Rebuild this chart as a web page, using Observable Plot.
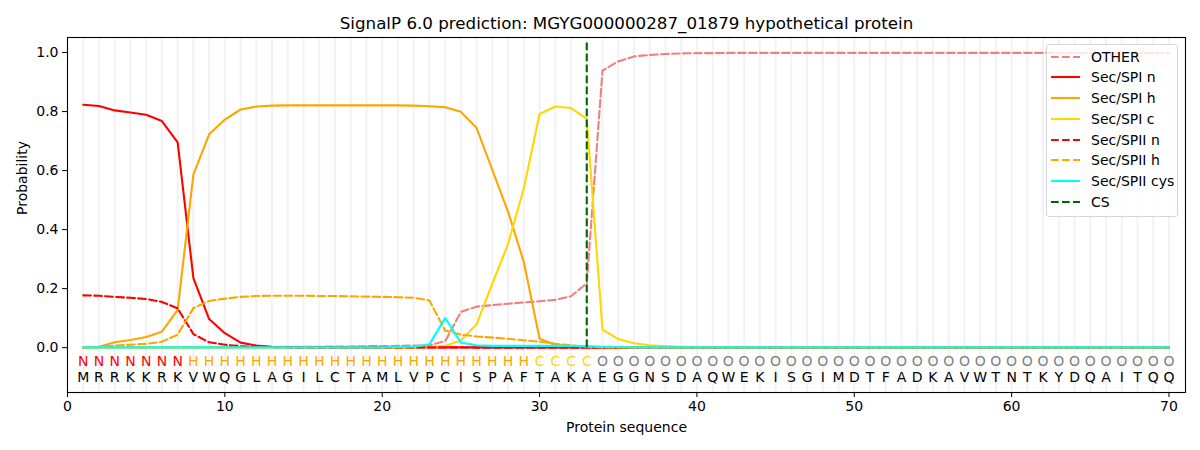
<!DOCTYPE html>
<html><head><meta charset="utf-8">
<script src="https://cdn.jsdelivr.net/npm/d3@7"></script>
<script src="https://cdn.jsdelivr.net/npm/@observablehq/plot@0.6"></script>
<style>
body{margin:0;background:#fff;font-family:"DejaVu Sans",sans-serif;}
#wrap{position:relative;width:1200px;height:450px;overflow:hidden;}
#legend{position:absolute;left:1046px;top:44px;width:132px;height:173px;border:1px solid #d6d6d6;border-radius:3px;background:rgba(255,255,255,0.8);box-sizing:border-box;}
.lrow{position:absolute;left:4px;height:20px;display:flex;align-items:center;font-size:14px;color:#000;white-space:nowrap;}
.lrow svg{margin-right:11px;}
</style></head><body><div id="wrap"></div>
<script>
const title = "SignalP 6.0 prediction: MGYG000000287_01879 hypothetical protein";
const sequence = "MRRKKRKVWQGLAGILCTAMLVPCISPAFTAKAEGGNSDAQWEKISGIMDTFADKAVWTNTKYDQAITQQ".split("");
const regionLabels = ("NNNNNNN" + "H".repeat(22) + "CCCC" + "O".repeat(37)).split("");
const labelColors = {N: "red", H: "orange", C: "gold", O: "gray"};
const cleavageSite = 33;
const csTop = 1.037;
const labelRowY = -0.046;
const seqRowY = -0.1;
const xTicks = [0, 10, 20, 30, 40, 50, 60, 70];
const yTicks = [0, 0.2, 0.4, 0.6, 0.8, 1.0];

const OTHER = [
  0.001,0.001,0.001,0.001,0.001,0.001,0.001,0.001,0.001,0.001,
  0.002,0.002,0.002,0.003,0.003,0.003,0.004,0.004,0.005,0.005,
  0.006,0.007,0.008,0.022,0.121,0.139,0.144,0.149,0.153,0.157,
  0.162,0.174,0.218,0.939,0.970,0.987,0.992,0.995,0.997,0.998,
  0.998,0.999,0.999,0.999,0.999,0.999,0.999,0.999,0.999,0.999,
  0.999,0.999,0.999,0.999,0.999,0.999,0.999,0.999,0.999,0.999,
  0.999,0.999,0.999,0.999,0.998,0.998,0.998,0.998,0.998,0.998];
const SPI_n = [
  0.823,0.819,0.804,0.797,0.789,0.768,0.696,0.236,0.097,0.049,
  0.017,0.007,0.003,0.002,0.001,0.001,0.001,0.001,0.001,0.001,
  0.001,0.001,0.001,0.001,0.001,0.001,0.001,0.001,0.001,0.001,
  0.001,0.001,0.001,0,0,0,0,0,0,0,
  0,0,0,0,0,0,0,0,0,0,
  0,0,0,0,0,0,0,0,0,0,
  0,0,0,0,0,0,0,0,0,0];
const SPI_h = [
  0.000,0.003,0.018,0.026,0.036,0.054,0.128,0.586,0.723,0.773,
  0.807,0.817,0.820,0.821,0.821,0.821,0.821,0.821,0.821,0.821,
  0.821,0.820,0.818,0.815,0.799,0.744,0.602,0.460,0.290,0.030,
  0.010,0.004,0.002,0.001,0.001,0,0,0,0,0,
  0,0,0,0,0,0,0,0,0,0,
  0,0,0,0,0,0,0,0,0,0,
  0,0,0,0,0,0,0,0,0,0];
const SPI_c = [
  0,0,0,0,0,0,0,0,0,0,
  0,0,0,0,0,0,0,0,0,0,
  0.000,0.001,0.002,0.006,0.024,0.079,0.217,0.352,0.540,0.792,
  0.817,0.812,0.775,0.061,0.029,0.015,0.008,0.005,0.003,0.002,
  0.002,0.001,0.001,0.001,0.001,0.001,0.001,0.001,0.001,0.001,
  0.001,0.001,0.001,0.001,0.001,0.001,0.001,0.001,0.001,0.001,
  0,0,0,0,0,0,0,0,0,0];
const SPII_n = [
  0.177,0.176,0.172,0.169,0.165,0.155,0.133,0.046,0.018,0.010,
  0.005,0.003,0.002,0.001,0.001,0.001,0.001,0.001,0.001,0.001,
  0.001,0.001,0.001,0.001,0.001,0,0,0,0,0,
  0,0,0,0,0,0,0,0,0,0,
  0,0,0,0,0,0,0,0,0,0,
  0,0,0,0,0,0,0,0,0,0,
  0,0,0,0,0,0,0,0,0,0];
const SPII_h = [
  0.000,0.003,0.007,0.010,0.013,0.020,0.044,0.134,0.158,0.166,
  0.172,0.175,0.176,0.176,0.176,0.175,0.175,0.174,0.173,0.172,
  0.171,0.169,0.160,0.058,0.044,0.038,0.034,0.030,0.025,0.020,
  0.013,0.008,0.003,0.001,0.001,0,0,0,0,0,
  0,0,0,0,0,0,0,0,0,0,
  0,0,0,0,0,0,0,0,0,0,
  0,0,0,0,0,0,0,0,0,0];
const SPII_cys = [
  0.001,0.001,0.001,0.001,0.001,0.001,0.001,0.001,0.001,0.001,
  0.001,0.001,0.001,0.001,0.001,0.001,0.001,0.001,0.001,0.001,
  0.002,0.003,0.011,0.101,0.017,0.008,0.006,0.006,0.006,0.006,
  0.006,0.006,0.005,0.003,0.002,0.001,0.001,0.001,0.001,0.001,
  0.001,0.001,0.001,0.001,0.001,0.001,0.001,0.001,0.001,0.001,
  0.001,0.001,0.001,0.001,0.001,0.001,0.001,0.001,0.001,0.001,
  0.001,0.001,0.001,0.001,0.001,0.001,0.001,0.001,0.001,0.001];

const DASH = "7.7,3.3";
const series = [
  {name: "OTHER", values: OTHER, color: "#F08080", dash: DASH},
  {name: "Sec/SPI n", values: SPI_n, color: "red", dash: null},
  {name: "Sec/SPI h", values: SPI_h, color: "orange", dash: null},
  {name: "Sec/SPI c", values: SPI_c, color: "gold", dash: null},
  {name: "Sec/SPII n", values: SPII_n, color: "red", dash: DASH},
  {name: "Sec/SPII h", values: SPII_h, color: "orange", dash: DASH},
  {name: "Sec/SPII cys", values: SPII_cys, color: "cyan", dash: null}
];
const positions = d3.range(1, sequence.length + 1);

const lineMarks = series.map(s => Plot.line(s.values.map((v, i) => ({pos: i + 1, p: v})), {
  x: "pos", y: "p", stroke: s.color, strokeWidth: 2.1, strokeDasharray: s.dash || undefined, curve: "linear"
}));

const chart = Plot.plot({
  width: 1200,
  height: 450,
  marginLeft: 67,
  marginRight: 15,
  marginTop: 37,
  marginBottom: 58,
  style: {fontFamily: "DejaVu Sans, sans-serif", fontSize: "14px", background: "white", overflow: "visible"},
  x: {domain: [0, 71.05]},
  y: {domain: [-0.152, 1.051]},
  marks: [
    Plot.ruleX(positions, {x: d => d, stroke: "#f2f2f2", strokeWidth: 2}),
    ...lineMarks,
    Plot.ruleX([cleavageSite], {x: d => d, y1: 0, y2: csTop, stroke: "#006400", strokeWidth: 2.1, strokeDasharray: DASH}),
    Plot.text(positions, {x: d => d, y: labelRowY, text: d => regionLabels[d - 1], fill: d => labelColors[regionLabels[d - 1]], fontSize: 14}),
    Plot.text(positions, {x: d => d, y: seqRowY, text: d => sequence[d - 1], fill: "black", fontSize: 14}),
    Plot.frame({stroke: "black", strokeWidth: 1.1}),
    Plot.axisX({ticks: xTicks, tickSize: 5, tickPadding: 4, label: null, tickFormat: d3.format("d")}),
    Plot.axisY({ticks: yTicks, tickSize: 5, tickPadding: 4, label: null, tickFormat: d3.format(".1f")}),
    Plot.text([title], {frameAnchor: "top", lineAnchor: "middle", dy: -14, fontSize: 16.7}),
    Plot.text(["Protein sequence"], {frameAnchor: "bottom", lineAnchor: "middle", dy: 35, fontSize: 14}),
    Plot.text(["Probability"], {frameAnchor: "left", lineAnchor: "middle", rotate: -90, dx: -45, fontSize: 14})
  ]
});
const wrap = document.getElementById("wrap");
wrap.appendChild(chart);

// legend
const legend = document.createElement("div");
legend.id = "legend";
const legendItems = [...series, {name: "CS", color: "#006400", dash: DASH}];
legendItems.forEach((s, i) => {
  const row = document.createElement("div");
  row.className = "lrow";
  row.style.top = (1.7 + i * 20.7) + "px";
  const svg = d3.create("svg").attr("width", 29).attr("height", 6);
  svg.append("line").attr("x1", 0).attr("x2", 29).attr("y1", 3).attr("y2", 3)
    .attr("stroke", s.color).attr("stroke-width", 2.1)
    .attr("stroke-dasharray", s.dash || null);
  row.appendChild(svg.node());
  const span = document.createElement("span");
  span.textContent = s.name;
  row.appendChild(span);
  legend.appendChild(row);
});
wrap.appendChild(legend);
</script></body></html>
